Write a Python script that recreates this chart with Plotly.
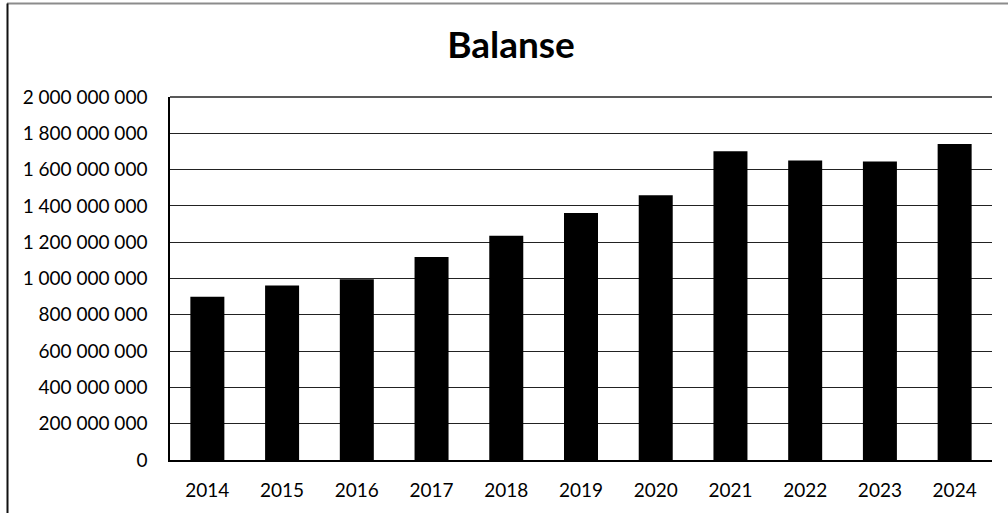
import plotly.graph_objects as go

years = ["2014", "2015", "2016", "2017", "2018", "2019", "2020", "2021", "2022", "2023", "2024"]
balanse = [899e6, 962e6, 996e6, 1119e6, 1235e6, 1361e6, 1459e6, 1701e6, 1650e6, 1644e6, 1741e6]
y_ticks = [0, 200e6, 400e6, 600e6, 800e6, 1000e6, 1200e6, 1400e6, 1600e6, 1800e6, 2000e6]

fig = go.Figure(go.Bar(x=years, y=balanse, marker=dict(color="black", line=dict(width=0))))

W, H = 1008, 513
L, R, T, B = 170, 16, 97, 53
pw, ph = W - L - R, H - T - B

fig.update_layout(
    width=W, height=H,
    margin=dict(l=L, r=R, t=T, b=B, autoexpand=False),
    paper_bgcolor="white", plot_bgcolor="white",
    separators=", ",
    bargap=0.545,
    showlegend=False,
    font=dict(family="Lato", size=19, color="black"),
    title=dict(text="<b>Balanse</b>", x=511 / W, xanchor="center", xref="container",
               y=1 - 45 / H, yanchor="middle", yref="container",
               font=dict(family="Lato", size=37, color="black")),
    xaxis=dict(showline=True, linecolor="black", linewidth=1.5, ticks="",
               showgrid=False, ticklabelstandoff=12, tickfont=dict(size=19)),
    yaxis=dict(range=[0, 2000e6], tickvals=y_ticks, tickformat=",d",
               showline=True, linecolor="black", linewidth=1.5, ticks="",
               showgrid=True, gridcolor="#222222", gridwidth=1.3,
               zeroline=False, ticklabelstandoff=17, tickfont=dict(size=19)),
    shapes=[
        # top border (gray)
        dict(type="line", xref="paper", yref="paper",
             x0=(7 - L) / pw, x1=(W + 5 - L) / pw,
             y0=(H - B - 3.5) / ph, y1=(H - B - 3.5) / ph,
             line=dict(color="#8c8c8c", width=2)),
        # left border (dark)
        dict(type="line", xref="paper", yref="paper",
             x0=(7.5 - L) / pw, x1=(7.5 - L) / pw,
             y0=(H - B - 3.5) / ph, y1=(-B - 5) / ph,
             line=dict(color="#111111", width=2)),
        # top edge of plot (2 000 000 000 line)
        dict(type="line", xref="paper", yref="paper", x0=0, x1=1, y0=1, y1=1,
             line=dict(color="#222222", width=1.3)),
    ],
)

fig.write_html("out.html", config={"displayModeBar": False},
               post_script="document.body.style.margin='0';document.body.style.overflow='hidden';")
